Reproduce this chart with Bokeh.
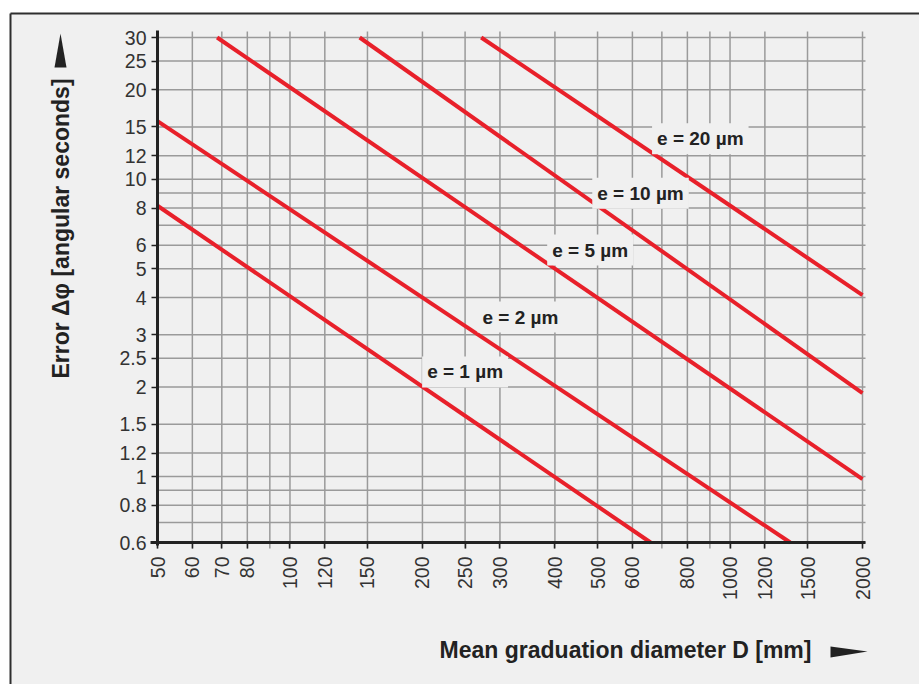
import math
from bokeh.plotting import figure
from bokeh.models import (FixedTicker, CustomJSTickFormatter, Label, PolyAnnotation, BoxAnnotation, Range1d)
from bokeh.embed import file_html
from bokeh.resources import INLINE

# ---- data ----
series_labels = ["e = 1 µm", "e = 2 µm", "e = 5 µm", "e = 10 µm", "e = 20 µm"]
d_e1 = [50, 660];     err_e1 = [8.15, 0.6]
d_e2 = [50, 1370];    err_e2 = [15.7, 0.6]
d_e5 = [68.3, 2000];  err_e5 = [30, 0.98]
d_e10 = [144, 2000];  err_e10 = [30, 1.91]
d_e20 = [272, 2000];  err_e20 = [30, 4.08]

label_d = [250, 334, 481, 626, 856]
label_err = [2.25, 3.44, 5.78, 8.98, 13.7]

x_ticks = [50, 60, 70, 80, 100, 120, 150, 200, 250, 300, 400, 500, 600, 800, 1000, 1200, 1500, 2000]
x_minor = [90, 700, 900]
y_ticks = [0.6, 0.8, 1, 1.2, 1.5, 2, 2.5, 3, 4, 5, 6, 8, 10, 12, 15, 20, 25, 30]
y_minor = [0.7, 0.9, 7, 9]

x_title = "Mean graduation diameter D [mm]"
y_title = "Error Δφ [angular seconds]"

# ---- layout (pixel geometry of the page) ----
W, H = 919, 684
X0_PX, X1_PX = 157, 862      # pixel of D=50 and D=2000
Y0_PX, Y1_PX = 542, 37       # pixel of err=0.6 and err=30
X_PPD = (X1_PX - X0_PX) / math.log10(2000 / 50)
Y_PPD = (Y0_PX - Y1_PX) / math.log10(30 / 0.6)


def px_x(px):
    return 50 * 10 ** ((px - X0_PX) / X_PPD)


def px_y(py):
    return 0.6 * 10 ** ((Y0_PX - py) / Y_PPD)


BG = "#f0f0f0"
RED = "#e8202a"
GRID = "#9a9a9a"
INK = "#222222"
FRAME = "#2e2e2e"
FONT = "Liberation Sans"

p = figure(width=W, height=H, x_axis_type="log", y_axis_type="log",
           x_range=Range1d(px_x(0), px_x(W)), y_range=Range1d(px_y(H), px_y(0)),
           output_backend="svg", toolbar_location=None, min_border=0,
           background_fill_color="white", border_fill_color="white", outline_line_color=None)
p.title.visible = False

# grey panel
p.add_layout(BoxAnnotation(left=px_x(10), top=px_y(13), right=px_x(W + 50), bottom=px_y(H + 50),
                           fill_color=BG, fill_alpha=1, line_color=None, level="underlay"))
# its frame line (top and left edges visible)
p.segment(x0=[px_x(10), px_x(10)], y0=[px_y(13), px_y(13)],
          x1=[px_x(W + 50), px_x(10)], y1=[px_y(13), px_y(H + 50)],
          line_color=FRAME, line_width=2)

xt = FixedTicker(ticks=x_ticks, minor_ticks=x_minor)
yt = FixedTicker(ticks=y_ticks, minor_ticks=y_minor)
p.xaxis.ticker = xt
p.yaxis.ticker = yt
p.xgrid.visible = False
p.ygrid.visible = False
fmt = "return tick.toString();"
p.xaxis.formatter = CustomJSTickFormatter(code=fmt)
p.yaxis.formatter = CustomJSTickFormatter(code=fmt)

# grid lines drawn from the tick values
gx = x_ticks + x_minor
p.segment(x0=gx, y0=[px_y(548)] * len(gx), x1=gx, y1=[px_y(31)] * len(gx),
          line_color=GRID, line_width=1.5)
gy = y_ticks + y_minor
p.segment(x0=[50] * len(gy), y0=gy, x1=[px_x(865)] * len(gy), y1=gy,
          line_color=GRID, line_width=1.5)

p.xaxis.fixed_location = 0.6
p.yaxis.fixed_location = 50
p.xaxis.bounds = (px_x(150), px_x(865))
p.yaxis.bounds = (px_y(545), px_y(30))

for ax in (p.xaxis, p.yaxis):
    ax.axis_line_color = INK
    ax.axis_line_width = 3
    ax.major_tick_line_color = INK
    ax.major_tick_line_width = 1.5
    ax.major_tick_out = 6
    ax.major_tick_in = 0
    ax.minor_tick_out = 0
    ax.minor_tick_in = 0
    ax.minor_tick_line_color = None
    ax.major_label_text_font = FONT
    ax.major_label_text_font_size = "19.5px"
    ax.major_label_text_color = "#333333"
p.xaxis.major_label_orientation = math.pi / 2
p.xaxis.major_label_standoff = 8
p.yaxis.major_label_standoff = 5

for xs, ys in ((d_e1, err_e1), (d_e2, err_e2), (d_e5, err_e5), (d_e10, err_e10), (d_e20, err_e20)):
    p.line(xs, ys, line_color=RED, line_width=4)

for t, xv, yv in zip(series_labels, label_d, label_err):
    p.add_layout(Label(x=xv, y=yv, text=t, text_align="center", text_baseline="middle",
                       text_font=FONT, text_font_style="bold", text_font_size="19px",
                       text_color=INK, background_fill_color=BG, padding=5))

# axis titles and arrows
p.add_layout(Label(x=px_x(60), y=px_y(228), text=y_title,
                   angle=math.pi / 2, text_align="center", text_baseline="middle",
                   text_font=FONT, text_font_style="bold", text_font_size="23px", text_color=INK))
p.add_layout(Label(x=px_x(625), y=px_y(649), text=x_title,
                   text_align="center", text_baseline="middle",
                   text_font=FONT, text_font_style="bold", text_font_size="23px", text_color=INK))
p.add_layout(PolyAnnotation(xs=[px_x(60), px_x(54), px_x(66)], ys=[px_y(33), px_y(67), px_y(67)],
                            fill_color=INK, fill_alpha=1, line_color=None))
p.add_layout(PolyAnnotation(xs=[px_x(867), px_x(830), px_x(830)], ys=[px_y(651), px_y(646), px_y(657)],
                            fill_color=INK, fill_alpha=1, line_color=None))

open("out.html", "w").write(file_html(p, INLINE))
